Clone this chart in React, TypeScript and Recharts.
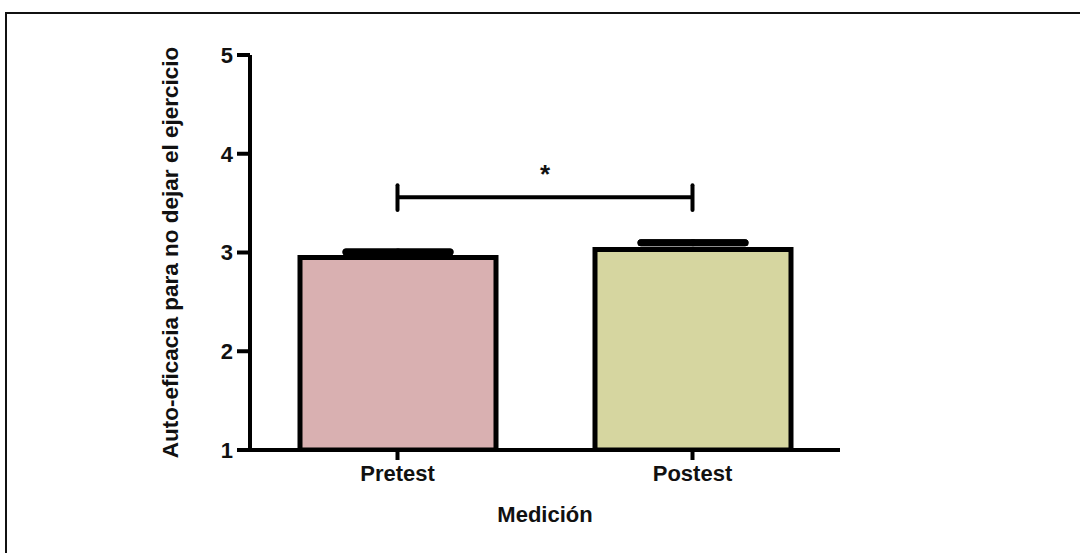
import React from 'react';
import { ComposedChart, Bar, Cell, XAxis, YAxis, ErrorBar, ReferenceLine, Label } from 'recharts';

const categories = ['Pretest', 'Postest'];
const means = [2.95, 3.03];
const sems = [0.055, 0.07];
const barColors = ['#d9b0b1', '#d6d6a0'];
const yTicks = [1, 2, 3, 4, 5];
const bracketY = 3.56;
const bracketLow = 3.43;
const bracketHigh = 3.68;

// only the upper cap of each error bar shows (the lower half is hidden behind the bar)
const data = categories.map((c, i) => ({ name: c, mean: means[i], err: [-sems[i], sems[i]] }));

const font = '"Liberation Sans", Arial, sans-serif';
const tickStyle = { fontFamily: font, fontWeight: 700, fontSize: 22, fill: '#111' };

export default function App() {
  return (
    <div style={{ position: 'absolute', left: 0, top: 0, width: 1080, height: 553, background: '#fff' }}>
      <div style={{ position: 'absolute', left: 5, top: 12, right: 0, bottom: 0, borderTop: '2px solid #111', borderLeft: '2px solid #111' }} />
      <div style={{ position: 'absolute', left: 0, top: 0 }}>
        <ComposedChart width={1080} height={553} data={data} margin={{ top: 55, right: 240, bottom: 73, left: 170 }}>
          <XAxis
            dataKey="name"
            height={30}
            stroke="#000"
            strokeWidth={4}
            tickSize={10}
            tickMargin={5}
            tick={tickStyle}
            tickLine={{ stroke: '#000', strokeWidth: 4 }}
          >
            <Label value="Medición" position="bottom" offset={26} style={{ fontFamily: font, fontWeight: 700, fontSize: 22, fill: '#111' }} />
          </XAxis>
          <YAxis
            width={80}
            domain={[1, 5]}
            ticks={yTicks}
            allowDataOverflow
            stroke="#000"
            strokeWidth={4}
            tickSize={13}
            tickMargin={4}
            tick={tickStyle}
            tickLine={{ stroke: '#000', strokeWidth: 4 }}
          >
            <Label
              value="Auto-eficacia para no dejar el ejercicio"
              angle={-90}
              position="insideLeft"
              offset={0}
              style={{ textAnchor: 'middle', fontFamily: font, fontWeight: 700, fontSize: 22.5, fill: '#111' }}
            />
          </YAxis>
          <Bar dataKey="mean" barSize={196} stroke="#000" strokeWidth={5} isAnimationActive={false}>
            {data.map((d, i) => (
              <Cell key={d.name} fill={barColors[i]} />
            ))}
            <ErrorBar dataKey="err" direction="y" width={52} stroke="#000" strokeWidth={7} strokeLinecap="round" isAnimationActive={false} />
          </Bar>
          <ReferenceLine
            segment={[{ x: categories[0], y: bracketY }, { x: categories[1], y: bracketY }]}
            stroke="#000"
            strokeWidth={4}
          >
            <Label value="*" position="top" offset={14} style={{ fontFamily: font, fontWeight: 700, fontSize: 26, fill: '#111' }} />
          </ReferenceLine>
          <ReferenceLine
            segment={[{ x: categories[0], y: bracketLow }, { x: categories[0], y: bracketHigh }]}
            stroke="#000"
            strokeWidth={4}
            strokeLinecap="round"
          />
          <ReferenceLine
            segment={[{ x: categories[1], y: bracketLow }, { x: categories[1], y: bracketHigh }]}
            stroke="#000"
            strokeWidth={4}
            strokeLinecap="round"
          />
        </ComposedChart>
      </div>
    </div>
  );
}
